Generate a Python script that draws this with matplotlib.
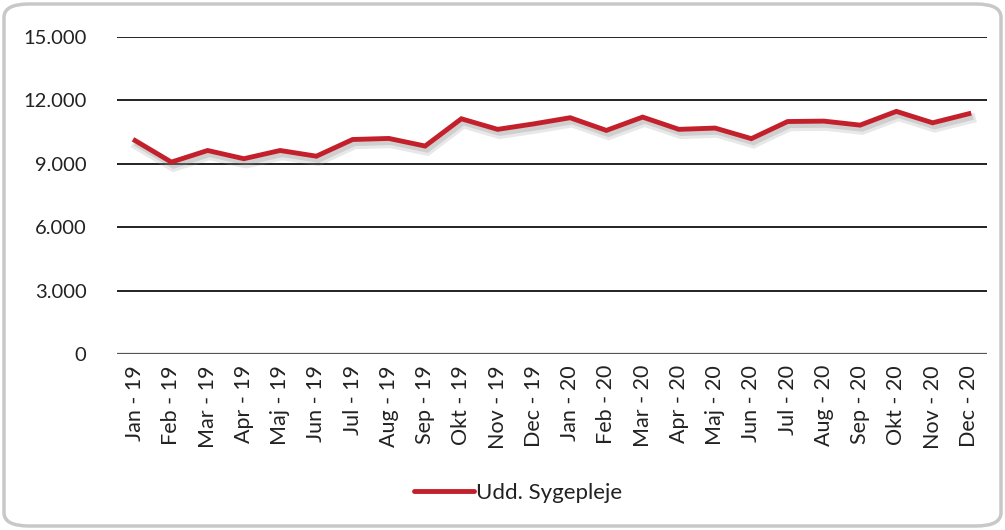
import matplotlib
matplotlib.use("Agg")
import matplotlib.pyplot as plt
import matplotlib.patheffects as pe
from matplotlib.patches import FancyBboxPatch

months = ["Jan - 19", "Feb - 19", "Mar - 19", "Apr - 19", "Maj - 19", "Jun - 19",
          "Jul - 19", "Aug - 19", "Sep - 19", "Okt - 19", "Nov - 19", "Dec - 19",
          "Jan - 20", "Feb - 20", "Mar - 20", "Apr - 20", "Maj - 20", "Jun - 20",
          "Jul - 20", "Aug - 20", "Sep - 20", "Okt - 20", "Nov - 20", "Dec - 20"]
values = [10100, 9080, 9630, 9240, 9630, 9360, 10150, 10200, 9840, 11130, 10630, 10890,
          11180, 10580, 11210, 10630, 10690, 10190, 11000, 11020, 10830, 11480, 10940, 11370]
series_name = "Udd. Sygepleje"
yticks = [0, 3000, 6000, 9000, 12000, 15000]
ytick_labels = ["0", "3.000", "6.000", "9.000", "12.000", "15.000"]

plt.rcParams['font.family'] = ['Lato', 'DejaVu Sans']

fig = plt.figure(figsize=(10.05, 5.30), dpi=100)
W, H = 1005, 530

# rounded border
border = FancyBboxPatch((4 / W, 4 / H), (W - 8) / W, (H - 8) / H,
                        boxstyle="round,pad=0,rounding_size=0.025",
                        transform=fig.transFigure, facecolor="white",
                        edgecolor="#c8c8c8", linewidth=2.5, zorder=-10)
fig.patches.append(border)

ax = fig.add_axes([117 / W, 1 - 354 / H, (987 - 117) / W, (354 - 37) / H])
ax.set_facecolor("none")
ax.set_zorder(5)

x = list(range(len(months)))
line, = ax.plot(x, values, color="#c3202b", linewidth=3.5, solid_joinstyle="miter",
                label=series_name, zorder=3,
                path_effects=[pe.SimpleLineShadow(offset=(1.5, -3.5), shadow_color="#999999",
                                                  alpha=0.22, linewidth=7),
                              pe.SimpleLineShadow(offset=(1.5, -3), shadow_color="#888888",
                                                  alpha=0.25),
                              pe.Normal()])

ax.set_xlim(-0.5, len(months) - 0.5)
ax.set_ylim(0, 15000)
ax.set_yticks(yticks)
ax.set_yticklabels(ytick_labels, fontsize=14.5, color="#222222")
ax.set_xticks(x)
ax.set_xticklabels(months, rotation=90, fontsize=15.5, color="#222222")
ax.tick_params(axis="both", length=0)
ax.tick_params(axis="y", pad=22)
ax.tick_params(axis="x", pad=8)

for spine in ax.spines.values():
    spine.set_visible(False)
ax.grid(axis="y", color="#111111", linewidth=1.3, zorder=1)
ax.set_axisbelow(True)
ax.axhline(0, color="#555555", linewidth=1.6, zorder=2)

leg = fig.legend(handles=[line], labels=[series_name], loc="center",
                 bbox_to_anchor=(518 / W, 1 - 493 / H), frameon=False,
                 fontsize=16, handlelength=2.7, handletextpad=0.1,
                 labelcolor="#222222")
leg.set_zorder(6)
for l in leg.get_lines():
    l.set_path_effects([pe.Normal()])
    l.set_linewidth(3.5)
    l.set_solid_capstyle("round")

fig.savefig("out.png", dpi=100)
